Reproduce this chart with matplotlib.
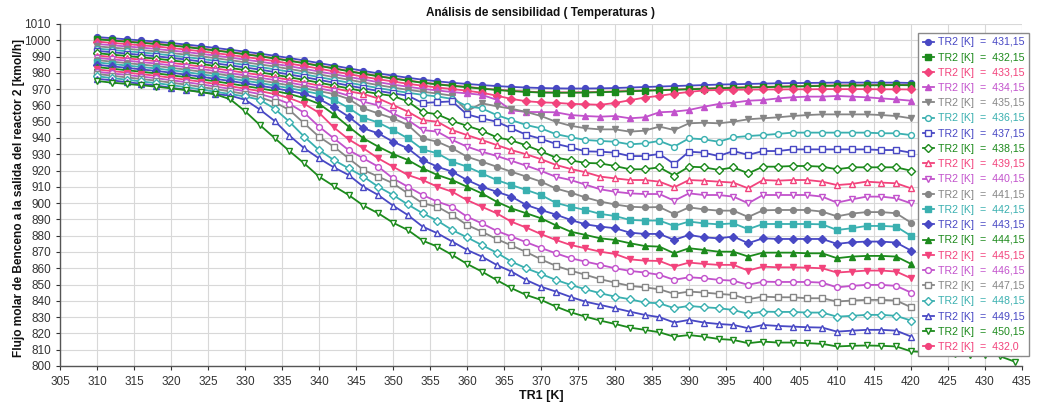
import matplotlib
matplotlib.use("Agg")
import matplotlib.pyplot as plt

plt.rcParams['font.family'] = ['Liberation Sans', 'DejaVu Sans']

TR1 = list(range(310, 421, 2))
TR1_EXT = list(range(310, 435, 2))

S431_15 = [1002.0, 1001.3, 1000.6, 999.9, 999.2, 998.3, 997.4, 996.4,
           995.3, 994.2, 993.0, 991.8, 990.5, 989.1, 987.6, 986.0,
           984.4, 982.8, 981.2, 979.7, 978.3, 977.0, 975.8, 974.8,
           973.9, 973.2, 972.5, 971.9, 971.4, 971.0, 970.7, 970.5,
           970.4, 970.4, 970.5, 970.7, 971.0, 971.3, 971.6, 971.9,
           972.2, 972.5, 972.8, 973.0, 973.2, 973.4, 973.6, 973.7,
           973.8, 973.9, 974.0, 974.0, 974.0, 974.0, 974.0, 973.8]
S432_15 = [1000.6, 999.9, 999.1, 998.4, 997.7, 996.8, 995.9, 994.8,
           993.7, 992.6, 991.4, 990.2, 988.8, 987.4, 985.9, 984.3,
           982.7, 981.0, 979.4, 977.9, 976.5, 975.2, 973.9, 972.9,
           972.0, 971.2, 970.3, 969.5, 968.8, 968.3, 967.9, 967.8,
           967.8, 967.9, 968.1, 968.4, 968.7, 969.0, 969.3, 969.6,
           969.9, 970.2, 970.5, 970.8, 971.0, 971.2, 971.4, 971.6,
           971.8, 972.0, 972.1, 972.2, 972.3, 972.4, 972.5, 972.4]
S433_15 = [999.2, 998.4, 997.7, 996.9, 996.2, 995.3, 994.3, 993.3,
           992.1, 991.0, 989.8, 988.5, 987.2, 985.7, 984.2, 982.6,
           980.9, 979.3, 977.6, 976.1, 974.7, 973.3, 972.1, 971.0,
           970.1, 969.0, 967.8, 966.0, 964.0, 962.6, 961.9, 961.6,
           961.0, 960.7, 960.4, 961.5, 963.2, 964.8, 965.9, 967.2,
           968.3, 969.2, 969.5, 969.6, 969.7, 969.8, 969.8, 969.9,
           969.9, 970.0, 970.0, 970.0, 970.0, 969.9, 969.9, 969.8]
S434_15 = [997.7, 997.0, 996.2, 995.5, 994.7, 993.7, 992.8, 991.7,
           990.6, 989.4, 988.1, 986.9, 985.5, 984.1, 982.5, 980.8,
           979.2, 977.5, 975.9, 974.3, 972.8, 971.5, 970.2, 969.2,
           968.2, 967.4, 966.5, 963.5, 957.0, 956.0, 955.9, 955.8,
           954.1, 953.5, 953.1, 953.5, 952.1, 952.7, 955.8, 956.2,
           957.2, 959.2, 960.9, 961.7, 962.9, 963.3, 964.3, 965.0,
           965.4, 965.4, 965.8, 965.4, 965.0, 964.3, 963.7, 962.9]
S435_15 = [996.3, 995.5, 994.8, 994.0, 993.2, 992.2, 991.2, 990.2,
           989.0, 987.8, 986.5, 985.2, 983.9, 982.4, 980.8, 979.1,
           977.4, 975.8, 974.1, 972.5, 971.0, 969.6, 968.4, 967.3,
           966.0, 956.5, 961.3, 959.5, 958.0, 956.0, 953.5, 950.0,
           947.5, 946.0, 945.3, 945.3, 943.9, 944.5, 947.0, 944.9,
           949.0, 949.4, 949.0, 950.0, 951.5, 952.1, 952.7, 953.5,
           954.1, 954.5, 954.5, 954.5, 954.5, 954.1, 953.5, 952.1]
S436_15 = [994.9, 994.1, 993.3, 992.5, 991.7, 990.7, 989.7, 988.6,
           987.4, 986.2, 984.9, 983.6, 982.2, 980.7, 979.1, 977.4,
           975.7, 974.0, 972.3, 970.7, 969.2, 967.8, 966.5, 965.5,
           964.0, 959.5, 958.2, 954.1, 951.0, 948.0, 945.9, 942.4,
           940.5, 938.8, 938.2, 937.7, 936.1, 936.7, 938.2, 934.7,
           939.8, 939.2, 937.7, 940.4, 941.2, 941.8, 942.5, 943.3,
           943.3, 943.3, 943.3, 943.3, 943.3, 942.9, 942.9, 941.8]
S437_15 = [993.5, 992.7, 991.8, 991.0, 990.2, 989.2, 988.2, 987.0,
           985.8, 984.6, 983.3, 982.0, 980.5, 979.0, 977.4, 975.7,
           974.0, 972.2, 970.5, 968.9, 967.4, 966.0, 961.5, 962.0,
           962.5, 954.5, 952.1, 950.0, 946.0, 942.0, 939.5, 936.4,
           934.3, 931.8, 931.6, 931.0, 928.9, 928.9, 930.2, 924.0,
           931.6, 931.0, 928.9, 932.0, 929.6, 932.0, 932.0, 933.0,
           933.0, 933.0, 933.0, 933.0, 933.0, 932.6, 932.6, 931.0]
S438_15 = [992.1, 991.2, 990.4, 989.5, 988.7, 987.7, 986.6, 985.5,
           984.2, 983.0, 981.7, 980.3, 978.9, 977.3, 975.7, 974.0,
           972.2, 970.5, 968.7, 967.1, 965.8, 962.5, 956.0, 954.5,
           950.5, 947.5, 944.5, 940.5, 938.5, 935.5, 931.8, 928.0,
           926.3, 924.7, 924.4, 922.8, 920.8, 920.8, 922.0, 916.9,
           922.4, 922.0, 920.4, 922.0, 918.3, 922.4, 922.4, 922.8,
           922.8, 922.4, 920.8, 922.0, 922.0, 922.0, 922.0, 919.9]
S439_15 = [990.6, 989.8, 988.9, 988.1, 987.2, 986.1, 985.1, 983.9,
           982.7, 981.4, 980.0, 978.7, 977.2, 975.7, 974.0, 972.2,
           970.5, 968.7, 967.0, 964.3, 960.3, 956.2, 951.0, 950.0,
           944.9, 941.8, 938.8, 935.7, 932.6, 930.0, 927.0, 923.5,
           921.0, 919.0, 916.3, 915.2, 914.2, 914.2, 913.2, 909.7,
           914.2, 913.8, 913.2, 912.6, 909.1, 914.2, 913.8, 914.2,
           914.2, 913.2, 911.1, 911.8, 913.2, 912.6, 912.2, 909.1]
S440_15 = [989.2, 988.3, 987.5, 986.6, 985.7, 984.6, 983.5, 982.4,
           981.1, 979.8, 978.4, 977.0, 975.6, 974.0, 972.3, 970.5,
           968.7, 966.0, 962.3, 960.0, 955.1, 951.0, 944.9, 943.9,
           938.8, 934.7, 931.6, 929.0, 926.0, 923.0, 919.8, 916.2,
           914.2, 911.4, 908.5, 907.0, 906.0, 905.6, 905.6, 901.5,
           906.0, 905.0, 905.0, 904.0, 899.9, 905.0, 905.0, 905.0,
           905.0, 904.0, 900.3, 902.3, 904.0, 904.0, 903.0, 899.9]
S441_15 = [987.8, 986.9, 986.0, 985.1, 984.2, 983.1, 982.0, 980.8,
           979.5, 978.2, 976.8, 975.4, 973.9, 972.3, 970.6, 968.8,
           967.0, 964.0, 958.2, 955.1, 952.1, 948.0, 939.8, 937.7,
           933.7, 928.5, 925.5, 922.4, 919.3, 916.3, 913.2, 909.0,
           906.5, 903.5, 901.0, 899.2, 897.8, 897.4, 897.6, 893.3,
           897.4, 896.2, 895.4, 895.4, 891.5, 895.6, 895.8, 895.8,
           895.8, 894.8, 891.9, 893.6, 894.5, 894.5, 893.8, 888.0]
S442_15 = [986.4, 985.5, 984.5, 983.6, 982.7, 981.6, 980.5, 979.2,
           977.9, 976.6, 975.2, 973.8, 972.2, 970.6, 968.9, 967.0,
           963.5, 958.5, 952.5, 949.5, 944.9, 939.8, 933.0, 930.6,
           925.5, 922.4, 918.3, 914.2, 911.1, 908.1, 905.0, 900.2,
           897.8, 895.8, 893.4, 892.1, 889.7, 889.3, 889.3, 886.0,
           888.7, 887.6, 887.0, 887.6, 884.0, 887.2, 887.2, 887.2,
           887.2, 887.0, 883.5, 884.6, 886.0, 886.0, 885.6, 879.9]
S443_15 = [985.0, 984.0, 983.1, 982.1, 981.2, 980.1, 978.9, 977.7,
           976.3, 975.0, 973.6, 972.1, 970.6, 968.9, 967.0, 964.0,
           959.0, 953.1, 945.9, 942.9, 937.7, 933.7, 926.5, 922.4,
           919.3, 914.2, 910.1, 907.0, 904.0, 898.9, 895.8, 893.0,
           889.7, 887.0, 885.6, 884.6, 881.9, 881.1, 881.1, 877.4,
           880.5, 879.0, 878.4, 879.5, 875.4, 878.4, 878.0, 878.0,
           878.0, 878.0, 875.0, 876.0, 876.4, 876.4, 875.8, 870.9]
S444_15 = [983.5, 982.6, 981.6, 980.7, 979.7, 978.5, 977.4, 976.1,
           974.8, 973.4, 971.9, 970.5, 968.9, 967.0, 964.5, 961.0,
           954.5, 947.0, 939.8, 934.7, 930.2, 926.5, 921.4, 917.3,
           914.2, 910.1, 906.0, 900.9, 896.8, 893.8, 890.7, 886.4,
           882.5, 880.5, 878.4, 877.4, 875.4, 873.7, 873.3, 869.2,
           872.3, 871.3, 870.2, 870.2, 867.2, 869.6, 869.6, 869.6,
           869.2, 869.2, 866.2, 867.2, 867.6, 867.6, 867.2, 862.7]
S445_15 = [982.1, 981.1, 980.2, 979.2, 978.2, 977.0, 975.8, 974.6,
           973.2, 971.8, 970.3, 968.8, 967.0, 964.5, 961.0, 955.5,
           946.5, 939.2, 933.7, 927.5, 922.4, 917.3, 914.2, 910.1,
           907.0, 901.9, 897.8, 893.8, 888.6, 885.0, 881.0, 877.4,
           874.3, 872.3, 870.2, 868.8, 865.5, 864.7, 864.5, 861.0,
           863.5, 862.7, 862.1, 862.1, 858.6, 861.0, 860.6, 860.6,
           860.4, 860.0, 857.4, 858.0, 858.6, 858.6, 858.0, 853.9]
S446_15 = [980.7, 979.7, 978.7, 977.7, 976.7, 975.5, 974.3, 973.0,
           971.6, 970.2, 968.7, 967.0, 964.5, 961.0, 955.5, 947.0,
           939.8, 932.6, 927.5, 922.4, 915.2, 910.1, 905.0, 900.9,
           897.8, 891.7, 887.6, 883.0, 879.5, 876.0, 872.5, 869.2,
           866.2, 864.1, 862.1, 860.0, 858.4, 857.4, 856.0, 852.9,
           854.5, 853.9, 852.9, 852.4, 849.8, 851.8, 851.6, 851.6,
           851.6, 851.2, 848.3, 849.2, 849.8, 849.8, 849.2, 845.1]
S447_15 = [979.3, 978.3, 977.2, 976.2, 975.2, 974.0, 972.8, 971.4,
           970.0, 968.6, 967.0, 965.0, 962.0, 957.2, 949.0, 940.8,
           934.7, 927.5, 920.4, 916.3, 912.2, 906.0, 899.9, 897.8,
           892.7, 886.6, 882.5, 878.0, 874.0, 870.0, 865.5, 861.5,
           858.6, 856.0, 853.3, 851.2, 849.2, 848.3, 847.1, 844.3,
           845.7, 845.1, 844.3, 843.6, 841.0, 842.6, 842.2, 842.2,
           841.6, 841.6, 839.6, 840.2, 840.6, 840.6, 840.2, 836.1]
S448_15 = [977.9, 976.8, 975.8, 974.7, 973.7, 972.5, 971.2, 969.9,
           968.4, 967.0, 965.5, 963.5, 958.0, 950.0, 940.8, 932.6,
           926.5, 921.4, 916.3, 910.1, 905.0, 899.2, 893.8, 889.2,
           883.5, 879.0, 874.3, 869.6, 864.1, 860.0, 856.5, 852.9,
           849.8, 847.1, 844.7, 842.6, 841.0, 839.0, 838.5, 835.5,
           836.9, 836.1, 835.5, 834.4, 832.0, 833.4, 833.2, 833.2,
           832.8, 832.8, 830.3, 830.8, 831.4, 831.4, 830.8, 827.9]
S449_15 = [976.4, 975.4, 974.3, 973.3, 972.2, 970.9, 969.7, 968.3,
           967.0, 966.0, 963.5, 957.5, 950.5, 941.5, 933.7, 927.5,
           922.0, 917.3, 910.1, 905.0, 898.5, 892.7, 885.6, 881.5,
           876.4, 871.3, 867.2, 862.1, 858.0, 852.8, 848.7, 845.7,
           842.4, 839.5, 837.5, 835.5, 833.4, 831.4, 830.0, 826.7,
           828.3, 826.7, 825.8, 825.2, 823.2, 825.2, 824.6, 824.2,
           823.8, 823.6, 821.1, 821.7, 822.2, 822.2, 821.7, 818.1]
S450_15 = [975.0, 974.0, 973.2, 972.4, 971.5, 970.5, 969.4, 968.2,
           966.8, 963.8, 956.5, 948.0, 940.0, 932.0, 924.4, 916.3,
           910.5, 905.0, 898.5, 893.8, 888.0, 883.5, 877.0, 873.3,
           868.2, 862.7, 858.0, 852.8, 847.8, 843.6, 840.6, 836.5,
           833.0, 830.3, 827.9, 825.8, 823.6, 822.2, 820.7, 818.0,
           819.0, 818.0, 816.6, 816.0, 814.0, 815.0, 814.4, 814.4,
           814.0, 813.6, 812.0, 812.4, 812.6, 812.4, 812.0, 809.0,
           808.5, 808.0, 807.5, 807.0, 806.5, 806.0, 802.7]
S432_0 = [1000.8, 1000.1, 999.3, 998.6, 997.9, 997.0, 996.1, 995.0,
          993.9, 992.8, 991.6, 990.4, 989.0, 987.6, 986.1, 984.5,
          982.9, 981.2, 979.6, 978.1, 976.7, 975.4, 974.1, 973.1,
          972.2, 971.4, 970.5, 969.7, 969.0, 968.5, 968.1, 968.0,
          968.0, 968.1, 968.3, 968.6, 968.9, 969.2, 969.5, 969.8,
          970.1, 970.4, 970.7, 971.0, 971.2, 971.4, 971.6, 971.8,
          972.0, 972.2, 972.3, 972.4, 972.5, 972.6, 972.7, 972.6]

LABELS = ["431,15", "432,15", "433,15", "434,15", "435,15", "436,15", "437,15",
          "438,15", "439,15", "440,15", "441,15", "442,15", "443,15", "444,15",
          "445,15", "446,15", "447,15", "448,15", "449,15", "450,15", "432,0"]
SERIES = [S431_15, S432_15, S433_15, S434_15, S435_15, S436_15, S437_15,
          S438_15, S439_15, S440_15, S441_15, S442_15, S443_15, S444_15,
          S445_15, S446_15, S447_15, S448_15, S449_15, S450_15, S432_0]

BLUE, GREEN, PINK, VIOLET, GRAY, TEAL = '#4848C4', '#1C8A1C', '#F2437C', '#C252CC', '#868686', '#3AB0B0'
COLORS = [BLUE, GREEN, PINK, VIOLET, GRAY, TEAL, BLUE, GREEN, PINK, VIOLET, GRAY, TEAL,
          BLUE, GREEN, PINK, VIOLET, GRAY, TEAL, BLUE, GREEN, PINK]
MARKERS = ['o', 's', 'D', '^', 'v', 'o', 's', 'D', '^', 'v', 'o', 's', 'D', '^', 'v',
           'o', 's', 'D', '^', 'v', 'o']
FILLED = [True] * 5 + [False] * 5 + [True] * 5 + [False] * 5 + [True]

fig = plt.figure(figsize=(10.39, 4.07), dpi=100)
ax = fig.add_axes([60 / 1039, 1 - 366 / 407, (1022 - 60) / 1039, (366 - 24) / 407])

handles = {}
order = [20] + list(range(20))
for i in order:
    y = SERIES[i]
    x = TR1_EXT if len(y) == len(TR1_EXT) else TR1
    c = COLORS[i]
    ms = 3.6 if MARKERS[i] in ('D',) else 4.2
    h, = ax.plot(x, y, color=c, lw=1.3, marker=MARKERS[i], ms=ms,
                 mfc=c if FILLED[i] else 'white', mec=c, mew=1.0,
                 label="TR2 [K]  =  " + LABELS[i], clip_on=True)
    handles[i] = h

ax.set_xlim(305, 435)
ax.set_ylim(800, 1010)
ax.set_xticks(range(305, 436, 5))
ax.set_yticks(range(800, 1011, 10))
ax.grid(True, color='#d8d8d8', lw=0.8)
ax.set_axisbelow(True)
for s in ['top', 'right']:
    ax.spines[s].set_visible(False)
for s in ['left', 'bottom']:
    ax.spines[s].set_color('#555555')
    ax.spines[s].set_linewidth(1.0)
ax.tick_params(axis='both', labelsize=8.5, colors='#333333', length=3, width=0.8)
ax.tick_params(axis='x', pad=4)

fig.text(541 / 1039, 1 - 13 / 407, "Análisis de sensibilidad ( Temperaturas )",
         ha='center', va='center', fontsize=8.5, fontweight='bold', color='#111111')
fig.text(541 / 1039, 1 - 396 / 407, "TR1 [K]", ha='center', va='center',
         fontsize=9, fontweight='bold', color='#111111')
fig.text(19 / 1039, 1 - 198 / 407, "Flujo molar de Benceno a la salida del reactor 2 [kmol/h]",
         ha='center', va='center', rotation=90, fontsize=8.6, fontweight='bold', color='#111111')

hl = [handles[i] for i in range(21)]
leg = ax.legend(handles=hl, loc='upper right', bbox_to_anchor=(1029 / 1039, 1 - 33 / 407),
                bbox_transform=fig.transFigure, fontsize=7.7, frameon=True, fancybox=False,
                borderaxespad=0, labelspacing=0.49, handlelength=1.1, handletextpad=0.35,
                borderpad=0.4, framealpha=1, edgecolor='#8a8a8a')
leg.get_frame().set_linewidth(1.0)
for t, c in zip(leg.get_texts(), COLORS):
    t.set_color(c)
leg.set_zorder(10)

fig.savefig("out.png", dpi=100)
